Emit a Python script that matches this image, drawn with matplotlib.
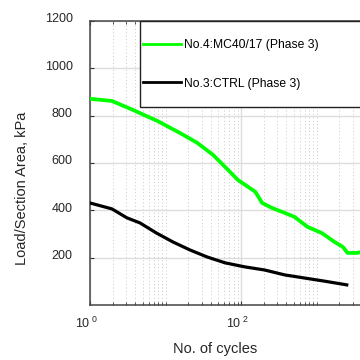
# ----------------------------------------------------------------------
#   Imports
# ----------------------------------------------------------------------

import numpy as np
import matplotlib
matplotlib.use('Agg')
import matplotlib.pyplot as plt
import matplotlib.transforms as mtransforms
from matplotlib.ticker import LogLocator, FixedLocator, FixedFormatter, NullFormatter
from matplotlib.patches import Rectangle

matplotlib.rc('font', family=['Liberation Sans', 'DejaVu Sans'], size=8.7)
matplotlib.rc('mathtext', fontset='custom', rm='Liberation Sans')

# ----------------------------------------------------------------------
#   Data
# ----------------------------------------------------------------------

# No.4:MC40/17 (Phase 3)
logN_mc = [0.00, 0.29, 0.57, 0.77, 0.89, 1.19, 1.42, 1.63, 1.79, 1.96,
           2.19, 2.28, 2.41, 2.58, 2.71, 2.88, 3.07, 3.24, 3.35, 3.41,
           3.53, 3.60]
load_mc = [871, 862, 824, 795, 778, 727, 685, 634, 583, 528,
           478, 431, 410, 389, 372, 330, 304, 266, 245, 220,
           220, 224]

# No.3:CTRL (Phase 3)
logN_ctrl = [0.00, 0.29, 0.49, 0.66, 0.88, 1.10, 1.32, 1.55, 1.79, 2.05,
             2.31, 2.58, 2.84, 3.10, 3.40]
load_ctrl = [431, 406, 368, 347, 304, 266, 233, 203, 178, 161,
             148, 127, 114, 101, 85]

labels = ['No.4:MC40/17 (Phase 3)', 'No.3:CTRL (Phase 3)']
yticks = [200, 400, 600, 800, 1000, 1200]
xticks = [1, 100, 10000]
xticklabels = [r'$\mathregular{10^{\ 0}}$', r'$\mathregular{10^{\ 2}}$', '']

# ----------------------------------------------------------------------
#   Main
# ----------------------------------------------------------------------

def main():

    fig = plt.figure(figsize=(3.6, 3.6), dpi=100)
    ax = fig.add_axes([0.25, 0.1528, 0.839, 0.789])

    N_mc = 10. ** np.array(logN_mc)
    N_ctrl = 10. ** np.array(logN_ctrl)

    l1, = ax.plot(N_mc, load_mc, color='#00ff00', lw=2.7, zorder=3)
    l2, = ax.plot(N_ctrl, load_ctrl, color='black', lw=2.3, zorder=3)

    ax.set_xscale('log')
    ax.set_xlim([1, 1e4])
    ax.set_ylim([0, 1200])

    # ticks
    ax.xaxis.set_major_locator(FixedLocator(xticks))
    ax.xaxis.set_major_formatter(FixedFormatter(xticklabels))
    ax.xaxis.set_minor_locator(LogLocator(base=10, subs=np.arange(1, 10), numticks=50))
    ax.xaxis.set_minor_formatter(NullFormatter())
    ax.set_yticks(yticks)

    ax.tick_params(which='both', direction='in', top=True, right=True,
                   colors='#333333', labelcolor='#262626', labelsize=9)
    ax.tick_params(which='major', length=3)
    ax.tick_params(which='minor', length=2)
    ax.tick_params(axis='y', pad=12.5)
    ax.tick_params(axis='x', pad=8)

    # y tick labels sit a little above their ticks, x ones a little left
    yoff = mtransforms.ScaledTranslation(0, 3./100, fig.dpi_scale_trans)
    for tl in ax.get_yticklabels():
        tl.set_transform(tl.get_transform() + yoff)
    xoff = mtransforms.ScaledTranslation(-3./100, 0, fig.dpi_scale_trans)
    for tl in ax.get_xticklabels():
        tl.set_transform(tl.get_transform() + xoff)

    # grid
    ax.grid(True, which='major', color='#dddddd', lw=1.0, ls='-', zorder=0)
    ax.grid(True, which='minor', axis='x', color='#c8c8c8', lw=0.7, ls=(0, (1, 2.5)), zorder=0)
    ax.set_axisbelow(True)

    for sp in ax.spines.values():
        sp.set_color('#444444')
        sp.set_linewidth(1.1)

    # labels
    ax.set_xlabel('No. of cycles', color='#262626', fontsize=10.5)
    ax.set_ylabel('Load/Section Area, kPa', color='#262626', fontsize=10.5)
    ax.xaxis.set_label_coords(0.414, -0.130)
    ax.yaxis.set_label_coords(-0.202, 0.412)

    # legend box
    box = Rectangle((0.164, 0.698), 1.2, 0.302, transform=ax.transAxes,
                    facecolor='white', edgecolor='#222222', lw=1.0,
                    clip_on=False, zorder=5)
    ax.add_patch(box)

    lg = ax.legend([l1, l2], labels, loc='center left',
                   bbox_to_anchor=(0.1765, 0.8475), frameon=False,
                   borderpad=0, borderaxespad=0, handlelength=3.15,
                   handletextpad=0.25, labelspacing=2.2)
    lg.set_zorder(6)
    for h in lg.get_lines():
        h.set_linewidth(2.0)

    plt.savefig('out.png', dpi=100)
    plt.close()

    return


# ----------------------------------------------------------------------
#   Call Main
# ----------------------------------------------------------------------

if __name__ == '__main__':
    main()
